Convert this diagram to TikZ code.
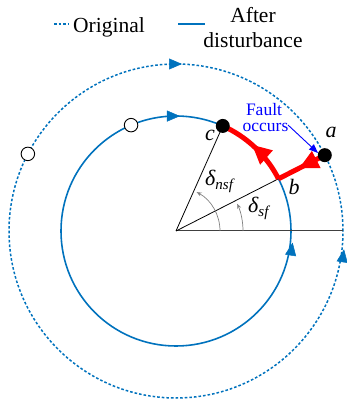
\documentclass[tikz,border=0pt]{standalone}
\usepackage{fontspec}
\setmainfont{Liberation Serif}
\newfontfamily\timesf{Liberation Serif}
\usetikzlibrary{arrows.meta,calc,decorations.markings}
\definecolor{myblue}{RGB}{0,114,189}
\definecolor{faultblue}{RGB}{0,0,255}
\definecolor{myred}{RGB}{255,0,0}
\begin{document}
\begin{tikzpicture}[x=1pt,y=1pt,
  orig/.style={draw=myblue,line width=1.5pt,dash pattern=on 2.6pt off 2pt},
  after/.style={draw=myblue,line width=1.6pt},
  tri/.style={draw=myblue,fill=myblue,line width=0.5pt,-{Triangle[length=13pt,width=11pt]}},
  redpath/.style={draw=myred,line width=5pt,
    postaction={decorate,decoration={markings,mark=at position 0.55 with {\arrow[myred,line width=1pt]{Triangle[length=19pt,width=19pt]}}}}},
  bigdot/.style={circle,fill=black,minimum size=14pt,inner sep=0pt},
  opendot/.style={circle,draw=black,fill=white,line width=0.9pt,minimum size=13.5pt,inner sep=0pt},
  lbl/.style={font=\timesf\fontsize{22}{22}\selectfont\itshape,inner sep=0pt},
  anglearc/.style={draw=gray,line width=0.7pt,-{Stealth[length=5pt,width=4pt]}},
  txt/.style={inner sep=0pt}
]
\useasboundingbox (0,0) rectangle (347,402);
\coordinate (O) at (176,171);
\def\Ri{115}
\def\Ro{167}
\def\ang{27}
% circles
\draw[orig] (O) circle[radius=\Ro];
\draw[after] (O) circle[radius=\Ri];
% axis and radial lines
\coordinate (xend) at (343,171);
\draw[black!75,line width=1pt] (O) -- (xend);
\coordinate (a) at ($(O)+(\ang:\Ro)$);
\coordinate (b) at ($(O)+(\ang:\Ri)$);
\coordinate (c) at ($(O)+(66:\Ri)$);
\draw[black,line width=0.8pt] (O) -- (b);
\draw[black,line width=0.8pt] (O) -- (c);
% angle arcs
\draw[anglearc] ($(O)+(67,0)$) arc[start angle=0,end angle=24,radius=67];
\draw[anglearc] ($(O)+(44,0)$) arc[start angle=0,end angle=62,radius=44];
% direction markers on circles
\draw[tri] ($(O)+(90:\Ro)+(-7,0)$) -- ++(13,0);
\draw[tri] ($(O)+(-8.5:\Ro)+(-81.5:6.5)$) -- ++(81.5:13);
\draw[tri] ($(O)+(92:\Ri)+(-5,0)$) -- ++(13,0);
\draw[tri] ($(O)+(-9:\Ri)+(-81:6.5)$) -- ++(81:13);
% red trajectory
\draw[redpath] (a) -- (b);
\draw[redpath,line join=miter] (b) arc[start angle=\ang,end angle=66,radius=\Ri];
% dots
\node[bigdot] (adot) at (a) {};
\node[bigdot] (cdot) at (c) {};
\node[opendot] (o1) at ($(O)+(152.5:\Ro)$) {};
\node[opendot] (o2) at ($(O)+(113:\Ri)$) {};
% labels
\node[lbl,anchor=base] (alab) at (331,264) {a};
\node[lbl,anchor=base] (blab) at (294,207) {b};
\node[lbl,anchor=base] (clab) at (210,261) {c};
\node[txt,anchor=base west] (dsf) at (248,189) {\timesf\fontsize{22}{22}\selectfont\itshape δ\raisebox{-4pt}{\fontsize{15}{15}\selectfont sf}};
\node[txt,anchor=base west] (dnsf) at (205,216) {\timesf\fontsize{22}{22}\selectfont\itshape δ\raisebox{-4pt}{\fontsize{15}{15}\selectfont nsf}};
% fault annotation
\node[txt,anchor=base,text=faultblue,font=\timesf\fontsize{17.5}{17.5}\selectfont] (f1) at (264,286) {Fault};
\node[txt,anchor=base,text=faultblue,font=\timesf\fontsize{17.5}{17.5}\selectfont] (f2) at (265.5,270) {occurs};
\coordinate (fs) at (288,277);
\coordinate (ft) at (318,249);
\draw[faultblue,line width=0.9pt,-{Triangle[length=9pt,width=7pt]}] (fs) -- (ft);
% legend
\coordinate (l1a) at (54,378);
\coordinate (l1b) at (68,378);
\draw[orig] (l1a) -- (l1b);
\node[txt,anchor=base west,font=\timesf\fontsize{21.5}{21.5}\selectfont] (lo) at (73,369.5) {Original};
\coordinate (l2a) at (178,378);
\coordinate (l2b) at (205,378);
\draw[after] (l2a) -- (l2b);
\node[txt,anchor=base,font=\timesf\fontsize{21.5}{21.5}\selectfont] (la1) at (253,379.3) {After};
\node[txt,anchor=base,font=\timesf\fontsize{21.5}{21.5}\selectfont] (la2) at (253,354) {disturbance};
\end{tikzpicture}
\end{document}
